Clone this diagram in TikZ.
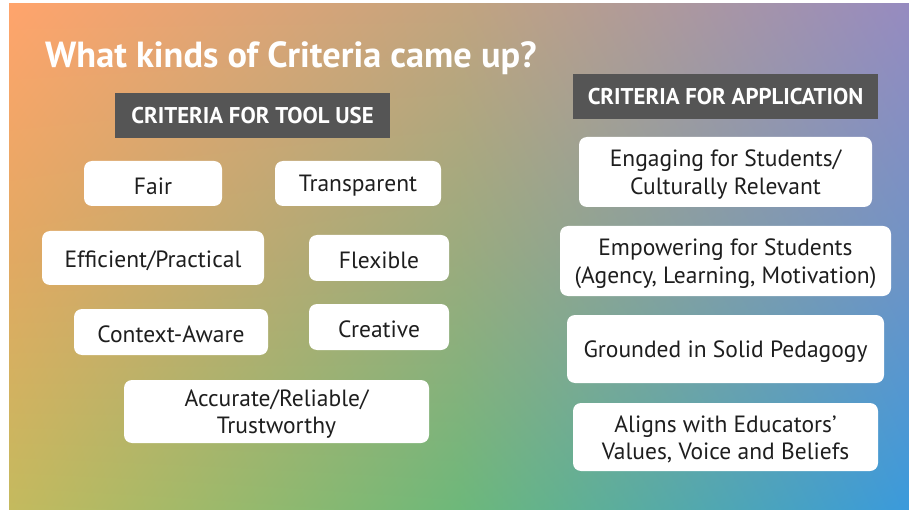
\documentclass[tikz,border=0pt]{standalone}
\usepackage{fontspec}
\setmainfont{PT Sans}
\usetikzlibrary{shadings}
\definecolor{gA}{HTML}{FFA46C}
\definecolor{gB}{HTML}{C2A47F}
\definecolor{gC}{HTML}{968BC0}
\definecolor{gD}{HTML}{E2A962}
\definecolor{gE}{HTML}{9AAB7E}
\definecolor{gF}{HTML}{7093C6}
\definecolor{gG}{HTML}{C4BA5E}
\definecolor{gH}{HTML}{6DB87A}
\definecolor{gI}{HTML}{3A9ADC}
\definecolor{hdrgray}{HTML}{555555}
\definecolor{txtdark}{HTML}{1E1E1E}
\tikzset{
  wbox/.style={fill=white, rounded corners=8pt, inner sep=0pt},
  wtext/.style={inner sep=0pt, text=txtdark,
    font=\fontsize{23.5}{27.5}\selectfont, align=center},
  hbox/.style={fill=hdrgray, inner sep=0pt, text=white,
    font=\bfseries\fontsize{22.8}{26}\selectfont, align=center},
}
\newcommand{\wb}[6]{%
  \node[wbox, minimum width=#3pt-#1pt, minimum height=#4pt-#2pt] (#5) at ({(#1+#3)/2},{(#2+#4)/2}) {};
  \node[wtext] (#5-t) at ([yshift=-2.5pt]#5.center) {#6};}
\begin{document}
\begin{tikzpicture}[x=1pt,y=-1pt]
\useasboundingbox (0,0) rectangle (909,510);
\fill[white] (0,0) rectangle (909,510);
% background built from four bilinear patches
\shade[upper left=gA, upper right=gB, lower left=gD, lower right=gE] (9,4) rectangle (459.5,256.5);
\shade[upper left=gB, upper right=gC, lower left=gE, lower right=gF] (459,4) rectangle (909,256.5);
\shade[upper left=gD, upper right=gE, lower left=gG, lower right=gH] (9,256) rectangle (459.5,510);
\shade[upper left=gE, upper right=gF, lower left=gH, lower right=gI] (459,256) rectangle (909,510);
% title
\node[anchor=base west, text=white, font=\bfseries\fontsize{36.3}{40}\selectfont, inner sep=0pt] (title) at (45,68) {What kinds of Criteria came up?};
% headers
\node[hbox, minimum width=275pt, minimum height=45pt] (h1) at (252.5,115.5) {CRITERIA FOR TOOL USE};
\node[hbox, minimum width=305pt, minimum height=45pt] (h2) at (725.5,96.5) {CRITERIA FOR APPLICATION};
% left boxes
\wb{84}{161}{222}{206}{fair}{Fair}
\wb{275}{161}{441}{206}{transp}{Transparent}
\wb{42}{231}{264}{285}{effic}{Efficient/Practical}
\wb{309}{235}{449}{281}{flex}{Flexible}
\wb{74}{309}{268}{355}{context}{Context-Aware}
\wb{309}{304}{449}{350}{creative}{Creative}
\wb{124}{380}{429}{443}{accurate}{Accurate/Reliable/\\Trustworthy}
% right boxes
\wb{579}{137}{872}{207}{engaging}{Engaging for Students/\\Culturally Relevant}
\wb{560}{226}{891}{296}{empower}{Empowering for Students\\(Agency, Learning, Motivation)}
\wb{567}{315}{884}{383}{grounded}{Grounded in Solid Pedagogy}
\wb{573}{403}{878}{471}{aligns}{Aligns with Educators’\\Values, Voice and Beliefs}
\end{tikzpicture}
\end{document}
